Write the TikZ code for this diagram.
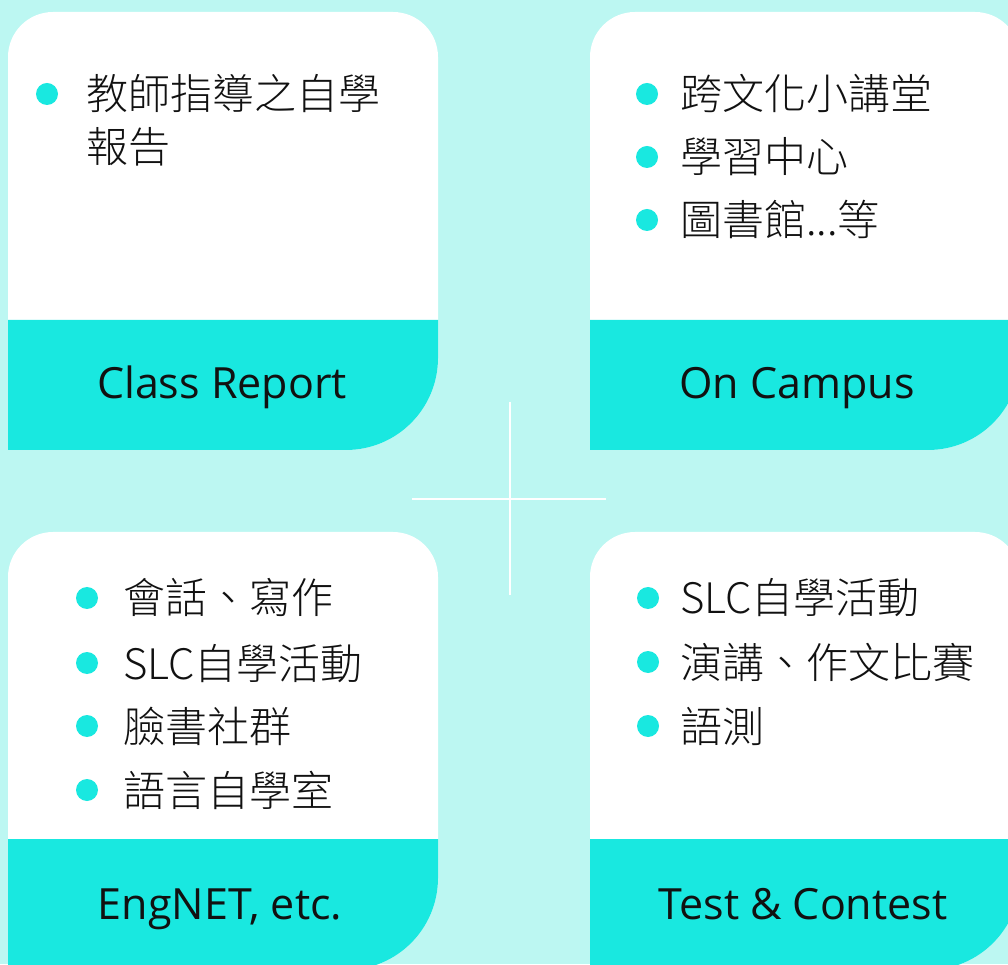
\documentclass[tikz,border=0pt]{standalone}
\usepackage{fontspec}
\setmainfont{Open Sans}
\newfontfamily\cjk{Noto Sans CJK TC Light}
\definecolor{bgcyan}{RGB}{188,247,242}
\definecolor{bandcyan}{RGB}{25,232,224}
\definecolor{txt}{RGB}{17,17,17}
\newcommand\mycard[5]{%
 \fill[cardface] (#1,#5) -- (#1,#3-45) arc[start angle=180,end angle=90,radius=45pt] -- (#2-45,#3) arc[start angle=90,end angle=0,radius=45pt] -- (#2,#5+92) arc[start angle=0,end angle=-90,radius=92pt] -- cycle;
 \fill[bandfill] (#1,#5) -- (#1,#4) -- (#2,#4) -- (#2,#5+92) arc[start angle=0,end angle=-90,radius=92pt] -- cycle;}
\begin{document}
\begin{tikzpicture}[x=1pt,y=1pt,
  cardface/.style={fill=white},
  bandfill/.style={fill=bandcyan},
  bulletdot/.style={fill=bandcyan},
  listitem/.style={anchor=west,inner sep=0pt,text=txt,font=\cjk\fontsize{42}{50}\selectfont,text height=37pt,text depth=5pt},
  bandtext/.style={anchor=base,inner sep=0pt,text=txt,font=\fontsize{43}{52}\selectfont},
  crossline/.style={draw=white,line width=2pt}]
\useasboundingbox (0,0) rectangle (1008,964);
\clip (0,0) rectangle (1008,964);
\fill[bgcyan] (0,0) rectangle (1008,964);
% cards
\mycard{8}{438}{952}{644}{514}
\mycard{590}{1020}{952}{644}{514}
\mycard{8}{438}{432}{125}{-6}
\mycard{590}{1020}{432}{125}{-6}
% cross
\coordinate (vt) at (510,562);
\coordinate (vb) at (510,369);
\coordinate (hl) at (412,465);
\coordinate (hr) at (606,465);
\draw[crossline] (vt) -- (vb);
\draw[crossline] (hl) -- (hr);
% card 1
\fill[bulletdot] (47,870) circle (11pt);
\node[listitem] (a1) at (86,870) {教師指導之自學};
\node[listitem] (a2) at (86,817) {報告};
\node[bandtext] (la) at (222,565) {Class Report};
% card 2
\fill[bulletdot] (647,870) circle (11pt);
\fill[bulletdot] (647,807) circle (11pt);
\fill[bulletdot] (647,744) circle (11pt);
\node[listitem] (b1) at (680,870) {跨文化小講堂};
\node[listitem] (b2) at (680,807) {學習中心};
\node[listitem] (b3) at (680,744) {圖書館...等};
\node[bandtext] (lb) at (797,565) {On Campus};
% card 3
\fill[bulletdot] (87,366) circle (11pt);
\fill[bulletdot] (87,301) circle (11pt);
\fill[bulletdot] (87,238) circle (11pt);
\fill[bulletdot] (87,174) circle (11pt);
\node[listitem] (c1) at (123,366) {會話、寫作};
\node[listitem] (c2) at (123,301) {SLC自學活動};
\node[listitem] (c3) at (123,238) {臉書社群};
\node[listitem] (c4) at (123,174) {語言自學室};
\node[bandtext] (lc) at (220,45) {EngNET, etc.};
% card 4
\fill[bulletdot] (648,366) circle (11pt);
\fill[bulletdot] (648,302) circle (11pt);
\fill[bulletdot] (648,238) circle (11pt);
\node[listitem] (d1) at (680,366) {SLC自學活動};
\node[listitem] (d2) at (680,302) {演講、作文比賽};
\node[listitem] (d3) at (680,238) {語測};
\node[bandtext] (ld) at (803,45) {Test \& Contest};
\end{tikzpicture}
\end{document}
